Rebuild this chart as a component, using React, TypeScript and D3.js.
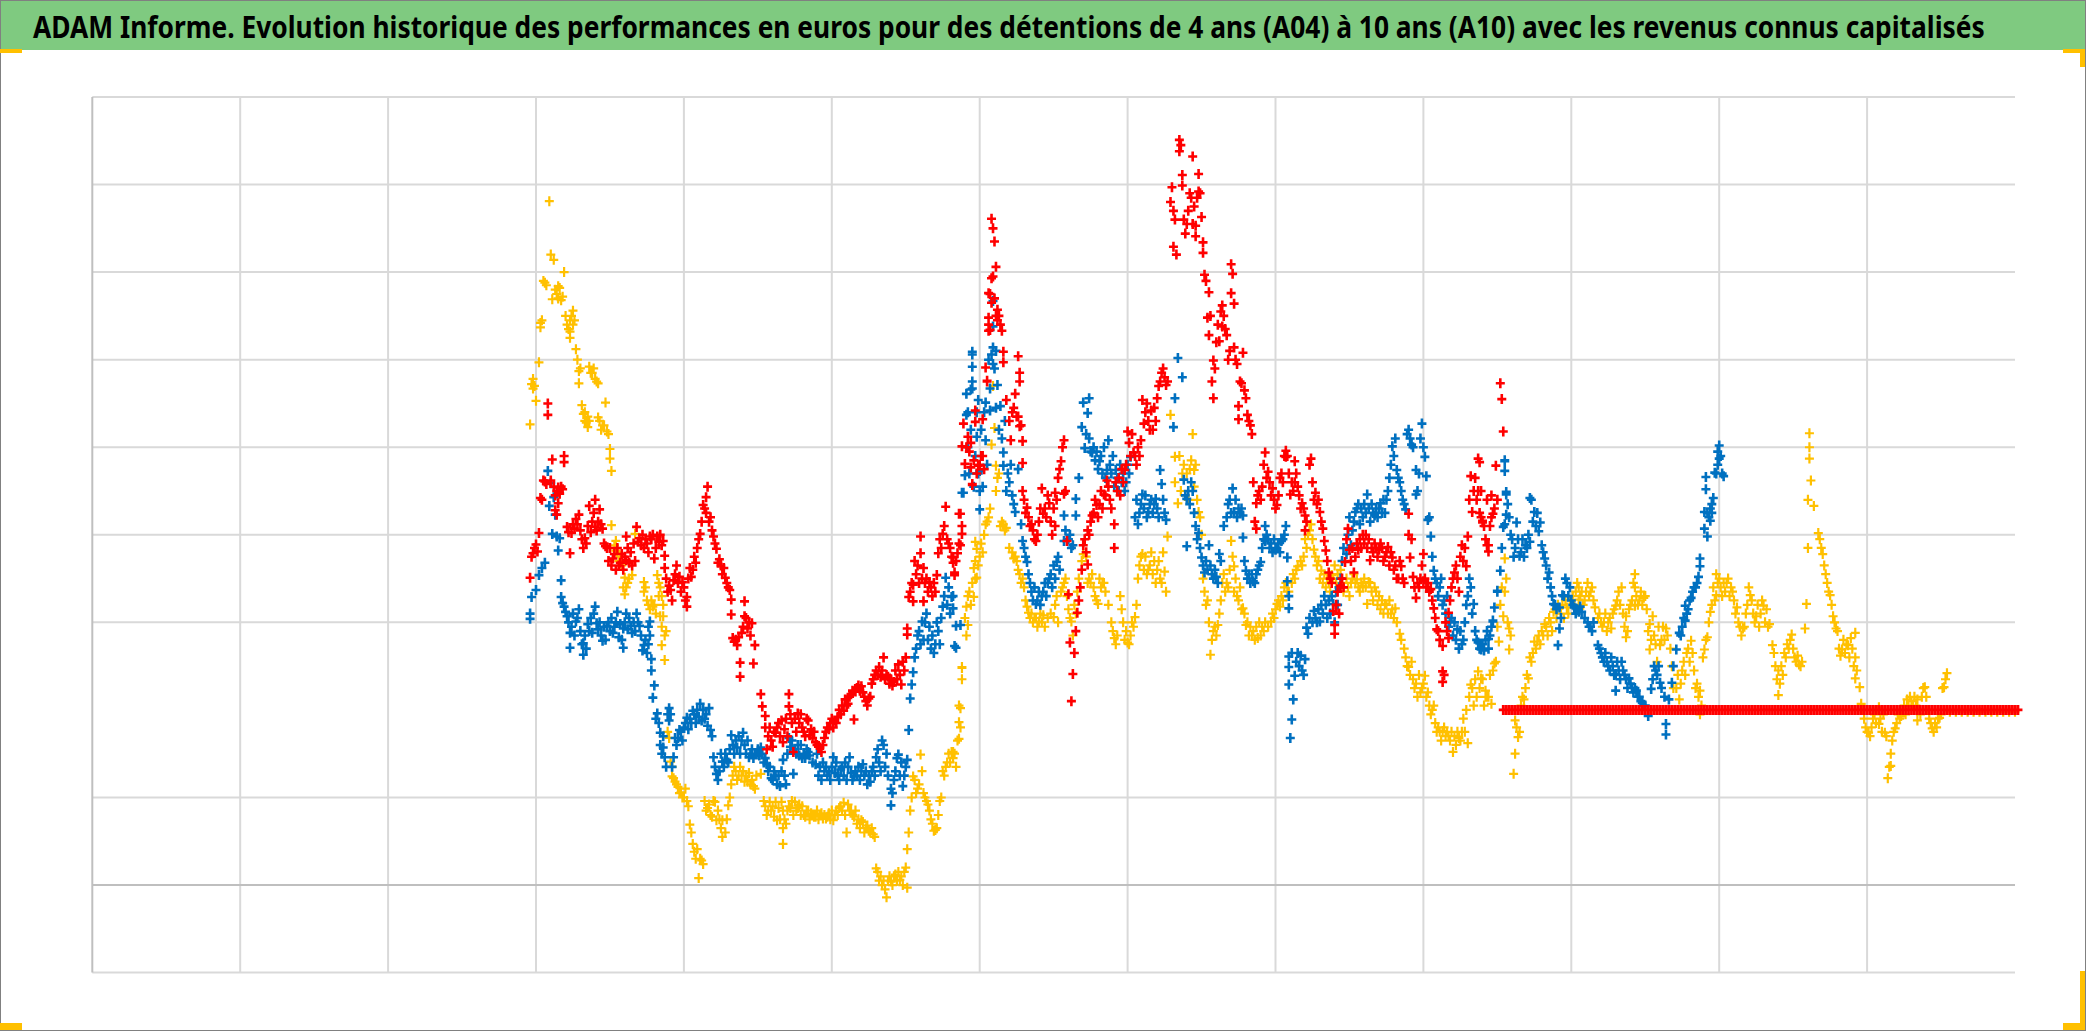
import { useRef, useLayoutEffect } from 'react';
import * as d3 from 'd3';

const width = 2086;
const height = 1031;

const title =
  'ADAM Informe. Evolution historique des performances en euros pour des détentions de 4 ans (A04) à 10 ans (A10) avec les revenus connus capitalisés';

// x: 100 units per vertical gridline, y: 100 units per horizontal gridline
const xGrid = [0, 100, 200, 300, 400, 500, 600, 700, 800, 900, 1000, 1100, 1200];
const yGrid = [-100, 100, 300, 400, 500, 600, 700, 800, 900];
const zeroLine = 0;

const yellowPoints: [number, number][] = [
  [296,526],[298,578],[298,567],[300,553],[302,597],[303,642],[303,637],[305,690],[306,688],[309,781],[310,720],[312,714],[311,669],[315,684],[315,670],[318,672],[319,700],[323,645],[323,625],[323,632],[325,656],[325,640],[328,600],[329,587],[329,573],[336,592],[338,585],[340,578],[342,573],[331,548],[332,538],[333,530],[335,523],[342,534],[345,525],[347,551],[349,515],[350,498],[350,487],[351,473],[351,411],[354,393],[354,382],[360,351],[360,332],[365,354],[367,401],[373,346],[373,335],[375,325],[377,315],[380,320],[382,354],[383,330],[386,307],[384,307],[385,295],[387,285],[385,274],[387,257],
  [390,168],[391,141],[392,124],[394,118],[396,112],[398,106],[400,100],[402,96],[404,69],[406,47],[409,41],[411,30],[413,24],[410,8],[414,96],[416,88],[418,80],[420,96],[422,74],[426,74],[426,55],[430,91],[434,135],[437,125],[440,130],[443,118],[447,113],[452,127],[454,96],[457,85],[460,90],[463,74],[467,85],[467,65],[467,47],[473,96],[476,85],[478,92],[481,80],[484,85],[488,78],[492,80],[496,76],[501,74],[505,88],[508,94],[510,60],[512,85],[514,80],[520,74],[523,65],[526,60],[529,55],[530,19],[533,10],[535,5],[537,-14],[540,4],[543,12],[546,6],[549,15],[551,41],[551,-3],[553,85],[555,124],[558,110],[560,149],[562,105],[564,96],[566,85],[570,63],[573,96],[575,130],[578,140],[581,152],[584,135],[587,202],[587,180],[588,249],[588,235],[591,318],[591,285],[596,362],[596,329],[598,384],[598,351],
  [582,152],[586,205],[586,186],[586,167],[588,248],[592,330],[592,297],[597,392],[597,350],[604,412],[605,415],[616,412],[611,479],[611,450],[609,570],[610,522],[608,503],[623,373],[629,350],[633,311],[637,305],[640,301],[643,308],[650,306],[657,345],[662,301],[664,320],[670,378],[674,350],[680,321],[683,345],[691,282],[695,330],[700,277],[705,306],[710,378],[714,360],[718,370],[722,350],[725,358],[726,335],[727,398],[729,537],[732,489],[732,460],[734,436],[744,515],[745,474],[745,455],[748,426],[754,325],[756,263],[761,297],[766,335],[770,393],[772,364],[772,335],[778,316],[780,297],[784,285],[788,282],[792,290],[797,301],[801,321],[808,335],[815,364],[819,375],[824,412],[826,383],[831,359],[838,354],[855,349],[859,342],[863,346],[867,340],[862,321],[874,321],[881,316],[884,287],[890,249],[896,215],[901,239],[906,200],[913,176],[917,170],[920,152],[924,168],[930,162],[932,229],[937,244],[942,215],[948,253],
  [939,236],[942,222],[946,207],[951,278],[954,307],[955,335],[956,350],[955,373],[958,293],[958,269],[962,188],[964,169],[962,150],[961,127],[968,212],[971,236],[972,260],[975,278],[977,278],[982,298],[988,312],[997,317],[1005,340],[1005,326],[1014,340],[1016,317],[1022,300],[1027,293],[1030,319],[1034,340],[1037,307],[1037,283],[1043,355],[1043,340],[1043,319],[1049,328],[1053,298],[1055,307],[1053,269],[1064,293],[1060,274],[1058,255],[1068,250],[1073,212],[1075,245],[1081,279],[1083,245],[1087,222],[1087,195],[1090,269],[1092,283],[1094,312],[1098,355],[1098,331],[1105,345],[1109,335],[1112,317],[1116,293],[1121,331],[1125,307],[1130,319],[1134,298],[1136,274],[1140,245],[1140,217],[1145,260],[1149,286],[1154,252],[1158,293],[1159,321],[1160,385],[1161,516],[1161,500],[1161,487],[1162,462],[1160,440],[1164,433],[1167,402],[1170,378],[1172,355],[1175,331],[1177,307],[1179,293],[1183,269],[1187,274],[1192,288],[1192,260],[1192,236],[1195,226],[1196,207],[1201,174],[1208,203],[1208,184],[1212,174],[1214,122],[1216,150],[1216,136],[1219,179],[1223,193],[1227,212],[1234,212],[1239,226],[1234,188],[1244,179],[1249,191],[1252,226],[1254,242],
];

const yellowDense: [number, number][] = [
  [297,572],[299,570],[304,645],[307,685],[313,680],[314,675],[316,682],[317,668],[320,650],[321,640],[322,635],[324,650],[326,645],[327,612],[330,590],[334,528],[337,585],[339,590],[341,575],[333,540],[335,535],[336,530],[343,530],[344,520],[346,525],[348,518],
  [353,388],[355,380],[356,370],[357,375],[358,365],[359,340],[361,340],[362,345],[363,350],[374,340],[376,320],[378,325],[379,318],[381,310],[383,345],[384,340],[385,330],[386,320],[388,290],[389,175],[392,135],[393,122],
  [395,115],[397,105],[399,100],[401,110],[403,90],[405,60],[407,38],[408,30],[412,28],[415,85],[417,92],[419,78],[421,95],[423,85],[424,75],[425,65],[428,60],[429,75],[431,100],[432,115],[433,125],[435,130],[436,120],[438,135],[439,125],[441,118],[442,125],[444,128],[445,115],[446,120],[448,110],[449,125],
  [455,90],[456,80],[458,95],[459,85],[461,78],[462,95],[464,88],[465,75],[466,95],[468,75],[469,70],[470,85],[471,90],[472,88],[474,80],[475,95],[477,88],[479,80],[480,90],[482,78],[483,85],[485,75],[486,82],[487,80],[489,78],[490,85],[491,75],[493,82],[494,76],[495,80],[497,78],[498,82],[499,75],[500,85],[502,80],[503,85],[504,80],[506,90],[507,85],[509,80],[511,92],[513,85],[515,78],[516,85],[517,70],[518,75],[519,65],[521,72],[522,60],[524,68],[525,62],[527,65],[528,58],
  [531,15],[532,5],[534,0],[536,-5],[538,5],[539,10],[541,0],[542,10],[544,5],[545,15],[547,10],[548,0],[550,20],[552,60],[554,100],[556,120],[557,105],[559,115],[561,130],[563,100],[565,92],[567,75],[568,70],[569,62],[571,65],[572,80],[574,100],[576,125],[577,135],[579,150],[580,140],[582,145],[583,150],[585,165],
  [590,305],[593,335],[594,320],[595,345],[597,370],[599,365],[600,375],[601,390],[602,380],[603,400],
  [606,420],[607,430],[612,465],[613,470],[614,410],[615,415],[617,405],[618,408],[620,385],[622,380],[624,375],[625,370],[626,360],[627,355],[628,345],[630,340],[631,325],[632,318],[634,305],[635,310],[636,300],[638,305],[639,295],[641,310],[642,300],[644,295],[646,305],[648,310],[651,320],[652,330],[653,300],[655,335],[656,340],[658,350],[659,330],[660,315],[661,305],[663,285],[665,310],[666,335],[667,350],[669,370],[672,375],[673,345],[675,345],[676,355],[677,340],[678,330],[679,325],[681,350],[682,340],[684,345],[685,335],[687,320],[689,300],[690,290],[692,275],[693,285],[696,315],[697,300],[698,280],[699,290],[701,275],[702,285],[703,300],[704,295],[706,320],[707,350],[708,365],[709,375],[711,360],[712,375],[713,355],[715,365],[716,380],[717,355],[719,345],[720,360],[721,370],[723,345],[724,380],
  [735,490],[736,450],[737,470],[738,480],[739,445],[740,470],[741,440],[742,475],[743,485],[746,480],[747,440],[749,420],[750,400],[751,350],[752,335],[753,320],[755,300],[757,280],[758,290],[759,295],[760,285],[762,310],[763,325],[764,345],[765,355],[767,345],[768,340],[769,360],[771,375],[773,350],[774,330],[775,325],[776,340],[777,315],[779,310],[781,300],[782,285],[783,295],[785,290],[786,280],[787,295],[789,300],[790,285],[791,295],[793,300],[795,295],[798,310],[799,305],[800,315],[802,325],[803,318],[804,330],[805,325],[806,340],[807,345],[809,335],[811,345],[812,355],[813,350],[814,360],
  [817,370],[818,365],[820,395],[821,385],[822,400],[823,405],[825,395],[827,375],[828,365],[829,370],[830,350],[832,345],[833,355],[834,340],[835,350],[836,345],[837,335],[839,350],[840,365],[841,345],[842,355],[843,340],[844,360],[845,345],[846,335],[848,350],[849,340],[850,330],[851,345],[852,350],[853,355],[854,345],[856,340],[857,335],[858,345],[860,350],[861,340],[864,345],[865,335],[866,325],[868,335],[869,320],[870,330],[871,315],[872,325],[873,310],[875,320],[876,310],[877,325],[878,310],[879,315],[880,305],[882,300],
  [885,280],[887,270],[888,260],[889,250],[891,240],[892,255],[893,235],[894,225],[895,230],[897,240],[898,220],[899,225],[900,230],[902,215],[903,220],[904,205],[905,195],[907,205],[908,185],[909,175],[910,180],[911,175],[912,165],[914,180],[915,170],[916,175],[918,165],[919,175],[921,170],[922,160],[923,175],[925,165],[926,175],[927,190],[928,175],[929,200],[931,215],[933,225],[934,205],[935,235],[936,215],[938,225],[940,235],[941,205],[943,215],[944,215],[945,240],[947,245],
  [949,255],[950,295],[952,320],[953,340],[957,300],[959,285],[963,180],[965,175],[966,205],[967,215],[969,225],[970,240],[973,255],[974,265],[976,270],[978,285],[979,275],[980,290],[981,285],[983,295],[984,285],[985,305],[986,300],[987,290],[989,315],[990,305],[991,320],[993,310],[994,320],[995,305],[996,325],[998,310],[999,325],
  [1001,330],[1002,320],[1003,335],[1004,345],[1006,330],[1007,335],[1008,320],[1009,325],[1010,335],[1011,345],[1012,330],[1013,335],[1015,325],[1018,305],[1019,310],[1020,300],[1021,295],[1023,310],[1024,290],[1025,300],[1026,305],[1028,310],[1029,315],[1031,325],[1032,335],[1033,320],[1035,310],[1036,295],[1038,290],[1039,315],[1040,320],[1041,325],[1042,345],[1044,330],[1045,320],[1046,325],[1047,335],[1048,320],[1050,330],[1051,315],[1052,290],[1054,280],[1056,285],[1057,275],[1059,295],[1061,280],[1062,295],[1063,280],[1065,285],
  [1067,270],[1069,225],[1071,225],[1072,240],[1074,230],[1076,255],[1077,240],[1078,265],[1079,270],[1080,255],[1082,265],[1084,225],[1085,230],[1086,215],[1088,205],[1089,260],[1091,280],[1093,300],[1095,320],[1096,340],[1097,325],[1099,345],[1100,350],[1101,340],[1102,330],[1103,345],[1104,335],[1106,350],[1107,330],[1108,340],[1110,325],[1111,310],[1113,300],[1114,295],[1115,285],[1117,295],[1118,310],[1119,320],[1120,340],[1122,325],[1123,310],[1124,300],[1126,320],[1127,295],[1128,310],[1129,325],[1131,300],[1132,315],[1133,295],
  [1137,265],[1138,250],[1139,235],[1141,230],[1142,250],[1143,240],[1144,265],[1146,275],[1147,270],[1148,280],[1150,270],[1151,260],[1152,255],[1153,262],[1155,250],[1156,255],[1168,395],[1169,385],[1171,365],[1173,345],[1174,335],[1176,320],[1178,300],[1180,290],[1181,270],[1182,262],[1184,280],[1185,265],[1186,275],[1188,260],[1189,282],[1190,270],[1191,250],[1193,245],[1197,200],[1198,190],[1199,180],[1200,175],[1202,170],[1203,180],[1204,190],[1205,195],[1206,185],[1207,200],[1209,190],[1210,175],[1211,195],[1213,170],[1215,135],[1217,165],[1218,175],[1220,185],[1221,195],[1222,190],[1224,200],[1225,205],[1226,195],[1228,205],[1229,215],[1230,210],[1231,205],[1232,215],[1233,205],[1235,200],[1236,195],[1237,215],[1238,225],[1240,215],[1241,200],[1242,190],[1243,185],[1245,175],[1246,185],[1247,180],[1248,190],[1250,195],[1251,225],[1253,235],
  [1256,198],[1260,198],[1264,198],[1268,198],[1272,198],[1276,198],[1280,198],[1284,198],[1288,198],[1292,198],[1296,198],[1300,198],
];

const bluePoints: [number, number][] = [
  [296,310],[296,304],[297,329],[300,337],[302,354],[304,362],[306,368],[308,473],[310,459],[312,443],[313,423],[309,433],[311,401],[314,398],[316,396],[315,382],[317,348],[317,329],[319,318],[321,307],[323,288],[323,271],[327,301],[329,315],[332,263],[332,276],[336,290],[340,318],[341,299],[345,279],[348,296],[352,288],[355,312],[359,271],[359,293],[361,310],[365,288],[368,310],[370,296],[373,274],[375,265],[377,301],[377,285],[378,258],[378,245],[380,228],[379,214],[382,196],[390,202],[390,188],[384,174],[386,157],[387,146],[393,146],[394,168],[397,177],[402,191],[406,199],[411,207],[412,188],[417,202],[418,177],[420,146],[422,127],[426,141],[429,143],[432,171],[436,157],[440,174],[444,146],[448,149],[452,157],[456,138],[461,130],[465,113],[467,143],[474,127],[471,168],[479,160],[484,152],[489,138],[498,130],[501,146],[506,132],[512,146],[515,124],[521,138],[526,118],[530,146],[535,160],[536,135],[540,91],[540,110],[543,130],[545,149],[548,113],[551,143],[552,177],[553,213],[554,229],[555,243],[556,260],[558,285],[561,301],[564,310],[569,265],[572,290],[575,318],[577,351],[581,329],[584,271],[584,296],[588,448],[590,468],[592,540],[595,567],[595,606],[598,512],[600,473],[600,429],[607,567],[608,606],[611,545],
  [583,273],[582,330],[582,316],[587,297],[589,448],[591,561],[595,609],[595,592],[595,575],[594,566],[591,537],[599,554],[604,551],[600,450],[604,508],[609,614],[609,595],[609,638],[609,667],[607,542],[612,571],[614,547],[616,494],[616,479],[618,450],[626,475],[624,426],[628,412],[629,393],[632,369],[634,345],[638,321],[642,330],[647,350],[652,369],[657,422],[657,393],[663,388],[665,441],[665,422],[667,465],[670,551],[674,556],[673,539],[669,523],[671,499],[676,494],[681,484],[687,508],[686,474],[692,474],[698,450],[702,489],[707,412],[710,446],[714,426],[719,441],[722,474],[723,458],[726,417],[731,523],[732,556],[734,602],[737,580],[738,463],[740,441],[740,387],[744,450],[748,402],[750,374],[755,388],[752,357],[760,352],[762,378],[765,410],[771,453],[772,426],[778,422],[778,397],[780,359],[785,347],[790,369],[793,410],[793,393],[800,383],[804,393],[807,410],[808,374],[808,347],[809,330],[809,316],[809,261],[815,265],[820,258],[809,249],[813,239],[809,229],[812,212],[811,189],[810,168],[821,294],[822,287],[826,313],[830,301],[833,330],[839,321],[843,340],[848,378],[851,388],[854,426],[857,412],[862,446],[867,422],[871,436],[876,450],[879,501],[882,474],[885,450],[888,429],[890,520],[892,503],[899,527],[895,474],[895,446],[901,489],[902,467],[903,417],[905,398],[907,359],[912,350],[914,325],[918,301],[923,292],[926,275],[931,350],[934,321],[937,277],[941,268],[947,301],[950,335],[955,484],[955,412],[956,446],
  [939,269],[944,281],[947,302],[948,317],[950,336],[952,359],[953,385],[955,473],[955,485],[956,449],[957,435],[956,423],[954,409],[959,400],[963,414],[962,385],[965,376],[969,388],[972,392],[972,442],[975,426],[979,414],[978,404],[980,388],[982,373],[985,357],[986,340],[988,321],[992,317],[992,293],[991,274],[994,331],[996,350],[999,340],[1002,317],[1007,312],[1013,295],[1018,274],[1022,255],[1027,260],[1030,241],[1030,222],[1034,255],[1039,236],[1044,222],[1049,205],[1052,193],[1054,224],[1057,245],[1060,231],[1063,215],[1066,212],[1064,184],[1064,172],[1068,231],[1069,250],[1071,269],[1073,288],[1077,302],[1077,319],[1081,328],[1083,340],[1086,352],[1087,373],[1087,364],[1091,466],[1091,452],[1090,426],[1094,430],[1094,416],[1090,407],[1092,398],[1096,442],[1097,471],[1100,502],[1100,487],[1103,467],
];

const blueDense: [number, number][] = [
  [318,322],[320,312],[322,300],[324,295],[325,310],[326,285],[328,305],[330,290],[331,275],[333,285],[334,270],[335,298],[337,305],[338,288],[339,310],[342,292],[343,300],[344,285],[346,295],[347,280],[349,300],[350,290],[351,305],[353,295],[354,300],[356,283],[357,298],[358,280],[360,300],[362,292],[363,305],[364,296],[366,300],[367,290],[369,300],[371,285],[372,268],[374,280],[376,275],[376,295],
  [381,190],[383,185],[384,160],[385,150],[386,170],[388,135],[389,195],[391,195],[392,135],[395,160],[396,168],[398,175],[399,165],[400,180],[401,185],[403,178],[404,190],[405,185],[407,195],[408,185],[409,200],[410,192],[413,200],[414,190],[415,195],[416,182],[419,170],
  [421,135],[423,120],[424,130],[425,150],[427,135],[428,150],[430,140],[431,155],[433,160],[434,150],[435,165],[437,170],[438,150],[439,165],[441,160],[442,150],[443,165],[445,150],[446,155],[447,145],[449,150],[450,155],[451,148],[453,150],[454,140],[455,145],[457,130],[458,135],[459,122],[460,120],[462,125],[463,115],[464,125],[466,130],[468,125],[469,115],[470,150],[472,158],[473,165],[475,155],[476,150],[477,160],[478,148],[480,145],[481,150],[482,145],[483,155],[485,148],[487,140],[490,150],[491,125],[492,135],[493,120],[494,140],[495,130],[496,135],[497,125],[499,120],[500,135],[502,128],[503,140],[504,125],[505,120],[507,135],[508,125],[509,140],[510,120],[511,135],[513,128],[514,120],[516,130],[517,125],[518,135],[519,120],[520,130],[522,125],[523,130],[524,115],[525,125],[527,130],[528,135],[529,125],[531,155],[532,140],[533,130],[534,165],[537,150],[538,125],[541,105],[542,120],[544,145],[546,125],[547,140],[549,125],[550,135],
  [557,270],[559,290],[560,275],[562,280],[563,300],[565,280],[566,295],[567,270],[568,285],[570,275],[571,300],[573,275],[574,305],[576,330],[578,320],[579,340],[580,310],
  [592,500],[593,470],[594,520],[596,455],[597,490],[598,540],[599,470],[601,520],[602,455],[603,540],[605,480],[606,600],[610,590],[611,610],[613,520],[615,510],[617,530],[619,470],[620,460],[622,445],[621,480],[623,435],
  [630,385],[631,375],[633,355],[635,335],[636,325],[637,340],[639,325],[640,335],[641,320],[643,335],[644,345],[645,330],[646,345],[648,355],[649,340],[650,365],[651,350],[653,375],[654,360],[658,405],[660,395],[661,400],[662,385],
  [672,515],[674,510],[675,495],[677,500],[678,485],[679,495],[680,475],[682,490],[683,470],[684,500],[685,465],[688,480],[689,470],[690,490],[691,455],[693,465],[694,450],[695,480],[696,460],[697,470],[699,460],[700,480],[701,470],
  [705,420],[706,440],[708,425],[709,435],[711,430],[712,445],[713,420],[715,435],[716,440],[717,425],[718,435],[720,430],[721,420],[724,440],[725,425],
  [739,445],[741,450],[742,435],[743,460],[745,425],[746,410],[747,395],[749,385],[751,365],[753,370],[754,360],[756,365],[757,355],[758,350],[759,360],[761,345],[763,370],
  [767,420],[768,435],[769,440],[770,425],[773,440],[774,420],[775,430],[776,425],[777,430],[779,370],[781,350],[782,355],[783,345],[784,355],[786,345],[787,355],[788,360],[789,365],[791,385],[792,395],[794,400],[795,395],[796,385],[797,390],[798,380],[799,395],[801,385],[802,390],[803,380],[805,395],[806,400],
  [811,265],[814,255],[816,250],[817,262],[818,245],[819,240],
  [823,305],[825,300],[827,305],[828,300],[829,315],[831,320],[832,310],[834,320],[835,305],[836,325],[837,310],[838,330],[840,300],[841,335],[842,320],[844,350],[845,370],[846,385],[849,400],[850,420],[852,405],[853,415],[855,430],[856,435],[858,430],[859,420],[860,435],[861,425],[863,430],[864,415],[865,435],[866,425],[868,430],[869,420],[870,430],[872,425],[873,440],[874,425],[875,440],[877,465],[878,480],[880,490],[881,510],[883,465],[884,460],[886,440],[887,435],[889,515],[891,510],[893,500],[896,450],[897,470],[898,510],[900,500],[904,420],
  [906,375],[908,350],[909,345],[910,330],[911,340],[913,320],[915,310],[916,330],[917,295],[919,305],[920,285],[921,300],[922,280],[924,270],[925,290],[927,280],[928,300],[929,320],[930,330],[932,340],[933,310],[935,290],[936,280],[938,270],[940,275],[942,280],[943,290],[944,270],[945,285],[946,295],
  [958,420],[960,395],[961,375],[964,395],[966,380],[967,395],[968,375],[970,385],[971,400],[973,440],[974,415],[976,410],[977,425],[981,380],[983,365],[984,350],[987,330],[989,320],[990,315],[993,305],[995,330],[997,345],[998,330],[1000,325],[1001,320],[1003,310],[1004,315],[1005,312],[1006,318],[1009,305],[1011,300],[1012,295],[1014,290],[1015,300],
  [1019,270],[1020,265],[1021,260],[1023,265],[1024,255],[1025,250],[1026,245],[1028,250],[1029,240],[1031,255],[1032,245],[1033,235],[1035,245],[1036,240],[1037,235],[1038,225],[1040,230],[1041,225],[1042,220],[1043,225],[1045,215],[1046,215],[1047,210],[1048,208],[1050,205],
  [1055,235],[1056,250],[1058,240],[1059,250],[1061,225],[1074,285],[1075,295],[1076,305],[1078,310],[1079,315],[1080,325],[1082,335],[1084,340],[1085,345],[1092,425],[1093,420],[1095,425],[1095,435],[1098,470],[1099,480],[1101,490],[1102,470],[1099,495],
];

const redPoints: [number, number][] = [
  [296,351],[298,379],[300,389],[302,402],[303,442],[306,461],[308,550],[308,537],[311,486],[310,462],[313,445],[315,454],[319,490],[319,483],[314,423],[321,409],[323,379],[326,407],[329,423],[333,396],[336,433],[340,440],[340,409],[343,429],[345,407],[347,387],[352,373],[356,365],[361,398],[361,371],[365,365],[366,390],[368,409],[370,396],[375,390],[377,398],[380,373],[382,398],[386,393],[387,376],[387,362],[391,337],[393,348],[395,365],[399,346],[402,318],[402,329],[404,362],[408,368],[411,401],[413,434],[416,455],[415,443],[418,420],[420,398],[422,384],[423,368],[427,362],[428,351],[431,337],[432,326],[432,309],[441,324],[441,307],[443,293],[446,299],[433,282],[436,274],[439,288],[448,274],[438,254],[438,238],[447,253],
  [452,218],[453,204],[455,193],[455,180],[456,155],[458,180],[462,174],[466,188],[467,163],[471,218],[471,204],[473,185],[474,152],[477,196],[480,180],[484,188],[485,171],[489,163],[492,157],[495,168],[499,185],[503,185],[508,199],[511,207],[515,189],[516,221],[520,227],[525,213],[528,235],[532,249],[535,260],[537,240],[542,232],[545,252],[547,229],[550,260],[551,293],[551,286],[552,329],[555,324],[555,343],[556,370],[560,379],[560,398],[562,362],[562,324],[566,346],[570,335],[571,354],[572,379],[575,401],[577,432],[579,390],[582,368],[583,354],[587,424],[588,401],[585,379],
  [588,501],[590,481],[592,512],[595,457],[597,529],[599,479],[601,490],[605,576],[607,634],[607,675],[608,761],[609,750],[610,735],[609,695],[611,706],[611,650],[582,374],[586,424],[588,410],[583,357],[587,388],[589,527],[594,477],[597,542],[595,458],[602,532],[604,591],[605,575],[606,676],[608,693],[606,648],[606,633],[612,657],[615,633],[616,609],[616,597],[618,554],[620,530],[621,508],[624,561],[626,604],[627,585],[627,575],[627,524],[629,507],[629,482],[629,450],[632,431],[635,412],[638,393],[642,453],[643,424],[647,436],[651,448],[651,410],[657,508],[655,484],[653,465],[657,447],[659,393],[660,332],[661,277],[662,210],[663,241],[664,265],[666,311],[668,340],[670,388],[673,366],[673,405],[676,422],[679,434],[684,446],[686,462],[691,412],[691,385],[693,450],[698,474],[700,518],[704,494],[709,508],[710,554],[711,527],[716,542],[717,520],[720,556],[723,585],[726,571],
  [730,797],[731,770],[731,729],[735,851],[735,838],[737,811],[737,799],[739,744],[742,790],[744,832],[748,812],[748,792],[746,753],[746,741],[750,763],[751,734],[751,722],[752,697],[755,677],[754,648],[755,628],[758,599],[757,575],[758,556],[762,621],[764,662],[764,638],[767,628],[768,600],[770,709],[771,698],[770,676],[772,664],[772,614],[774,595],[778,608],[777,573],[775,547],[775,532],[780,556],[781,537],[783,525],[784,515],[785,460],[787,407],[787,436],[791,455],[793,494],[795,472],[798,453],[801,434],[803,465],[807,496],[807,489],[810,446],[813,484],[813,460],[818,436],[820,422],[820,405],[824,487],[825,460],[827,448],[830,426],[832,407],[833,393],[834,382],[836,357],[838,345],[839,313],[840,297],[840,287],[844,342],[847,369],[849,407],[850,383],[853,357],[856,383],[861,400],[864,371],[867,390],[870,383],[876,386],[879,374],[882,350],[885,364],[890,424],[890,400],[891,374],[893,352],[895,328],[900,378],[900,347],[905,338],[907,316],[909,292],[913,273],[913,244],[913,232],[917,282],[917,311],[921,357],[924,335],[926,388],[929,364],[930,398],[932,467],[933,426],[937,487],[937,450],[940,414],[943,388],[944,381],[947,424],[949,479],[952,573],[953,555],[954,518],[938,483],[939,450],[940,416],[943,440],[946,445],[950,440],[944,388],
];

const redDense: [number, number][] = [
  [297,375],[299,385],[301,381],[304,440],[305,462],[307,458],[312,455],[314,450],[316,447],[317,455],[318,452],[315,436],[313,428],
  [322,403],[324,402],[325,412],[327,418],[328,412],[330,405],[331,395],[332,385],[334,390],[335,410],[337,403],[338,415],[339,425],[341,405],[342,415],[344,412],[346,390],[348,385],[349,370],[350,385],[351,365],[353,378],[354,360],[355,385],[357,368],[358,378],[359,360],[360,375],[362,385],[363,368],[364,380],[367,370],[369,392],[371,388],[372,400],[373,385],[374,395],[376,380],[378,395],[379,400],[381,385],[383,392],[384,400],[385,388],
  [388,350],[389,335],[390,342],[392,325],[394,355],[396,345],[397,352],[398,335],[400,340],[401,325],[403,350],[405,352],[406,360],[407,375],[409,385],[410,395],[412,415],[414,430],[415,425],[417,415],[419,405],[421,390],[424,372],[425,365],[426,355],[429,345],[430,340],
  [434,278],[435,280],[437,283],[440,295],[442,305],[444,300],[445,285],
  [457,170],[459,165],[460,158],[461,175],[463,180],[464,185],[465,170],[468,178],[469,190],[470,170],[472,195],[475,190],[476,175],[478,185],[479,195],[481,175],[482,170],[483,190],[486,178],[487,168],[488,175],[490,160],[491,158],[493,152],[494,160],[496,175],[497,180],[498,178],[500,190],[501,180],[502,188],[504,192],[505,200],[506,195],[507,205],[509,212],[510,205],[512,215],[513,218],[514,222],[517,225],[518,228],[519,222],[521,220],[522,215],[523,210],[524,205],[526,215],[527,230],[529,240],[530,245],[531,240],[533,238],[534,245],[536,235],[538,238],[539,230],[540,235],[541,228],[543,245],[544,235],[546,240],[548,255],[549,245],
  [553,335],[554,345],[557,355],[558,365],[559,345],[561,350],[563,345],[564,350],[565,335],[567,340],[568,330],[569,345],[573,395],[574,385],[576,410],[578,395],[580,385],[581,375],[584,370],[586,390],
  [591,500],[593,495],[594,505],[596,485],[598,470],[600,480],[602,490],[603,475],[606,640],[608,665],[610,670],[612,645],[613,650],[614,640],
  [622,540],[623,545],[625,535],[626,535],[628,525],[630,440],[631,425],[633,420],[634,410],[636,405],[637,395],[639,400],[640,415],[641,430],[644,430],[645,420],[646,445],[648,415],[649,400],[650,430],[652,440],[654,475],[656,500],[658,450],
  [665,290],[667,325],[669,360],[671,395],[672,380],[674,400],[675,415],[677,425],[678,440],[680,420],[681,435],[682,450],[683,430],[685,445],[687,455],[688,440],[689,430],[692,460],[694,465],[695,445],[696,475],[697,460],[699,480],[701,505],[702,490],[703,515],[705,490],[706,480],[707,500],[708,490],[712,540],[713,550],[714,530],[715,520],[718,545],[719,530],[721,570],[722,575],[724,590],[725,580],[727,575],
  [729,780],[732,760],[733,720],[736,845],[738,760],[740,755],[741,770],[743,785],[745,775],[747,785],[749,790],[744,755],[753,690],[756,650],[759,590],[760,620],[761,640],[763,655],[765,650],[766,635],[769,610],[773,600],[776,575],[779,565],[782,530],
  [786,415],[788,445],[789,450],[790,440],[792,480],[794,465],[796,460],[797,445],[799,440],[800,430],[802,445],[804,470],[805,460],[806,490],[808,490],[809,470],[811,460],[812,450],[814,470],[815,455],[816,445],[817,430],[819,430],[821,415],[823,480],[826,440],[828,435],[829,440],[831,415],[835,370],[837,350],[841,320],[842,335],[843,310],[845,350],[846,340],[848,395],[851,370],[852,385],[854,375],[855,390],[857,395],[858,385],[859,400],[860,390],[862,385],[863,395],[865,385],[866,380],[868,385],[869,375],[871,390],[872,385],[873,370],[874,375],[875,380],[877,365],[878,380],[880,360],[881,365],[883,350],[884,370],[886,350],[887,345],
  [892,395],[894,340],[896,345],[897,340],[898,350],[899,365],[901,350],[902,340],[903,345],[904,335],[906,325],[908,305],[910,290],[911,280],[914,240],[915,300],[916,290],[918,325],[919,340],[920,350],[922,365],[923,350],[925,375],[927,370],[928,385],[931,440],[934,450],[935,465],[936,440],[938,425],[939,420],[941,410],[942,395],[945,410],[946,420],[948,430],
];

// the red series stays flat from about x=954 on
const redFlatDays = [
  954,956,958,960,962,964,966,968,970,972,974,976,978,980,982,984,986,988,990,992,994,996,998,1000,1002,1004,1006,1008,1010,1012,1014,1016,1018,1020,1022,1024,1026,1028,1030,1032,1034,1036,1038,1040,1042,1044,1046,1048,1050,1052,1054,1056,1058,1060,1062,1064,1066,1068,1070,1072,1074,1076,1078,1080,1082,1084,1086,1088,1090,1092,1094,1096,1098,1100,1102,1104,1106,1108,1110,1112,1114,1116,1118,1120,1122,1124,1126,1128,1130,1132,1134,1136,1138,1140,1142,1144,1146,1148,1150,1152,1154,1156,1158,1160,1162,1164,1166,1168,1170,1172,1174,1176,1178,1180,1182,1184,1186,1188,1190,1192,1194,1196,1198,1200,1202,1204,1206,1208,1210,1212,1214,1216,1218,1220,1222,1224,1226,1228,1230,1232,1234,1236,1238,1240,1242,1244,1246,1248,1250,1252,1254,1256,1258,1260,1262,1264,1266,1268,1270,1272,1274,1276,1278,1280,1282,1284,1286,1288,1290,1292,1294,1296,1298,1300,1302,
];
const redFlatValue = 200;

const seriesList = [
  { color: '#FFC000', weight: 2.2, points: [...yellowPoints, ...yellowDense] },
  { color: '#0070C0', weight: 2.6, points: [...bluePoints, ...blueDense] },
  { color: '#FF0000', weight: 2.6, points: [...redPoints, ...redDense] },
  { color: '#FF0000', weight: 2.8, points: redFlatDays.map((d) => [d, redFlatValue] as [number, number]) },
];

const xScale = d3.scaleLinear().domain([0, 1300]).range([92.3, 2015]);
const yScale = d3.scaleLinear().domain([-100, 900]).range([972.6, 97]);

const plusPath = (x: number, y: number) => {
  const p = d3.path();
  p.moveTo(x - 4.5, y);
  p.lineTo(x + 4.5, y);
  p.moveTo(x, y - 5);
  p.lineTo(x, y + 5);
  return p.toString();
};

export default function App() {
  const titleRef = useRef<SVGTextElement>(null);
  const left = xScale(0);
  const right = xScale(1300);

  // squeeze the title to the width it has in the picture
  useLayoutEffect(() => {
    const node = titleRef.current;
    if (!node) return;
    const natural = node.getComputedTextLength();
    node.setAttribute('transform', `translate(33,38) scale(${1952 / natural},1)`);
  }, []);

  return (
    <svg
      width={width}
      height={height}
      style={{ position: 'absolute', left: 0, top: 0, background: '#fff' }}
    >
      <rect x={0} y={0} width={width} height={50} fill="#7FCA80" />
      <rect x={0.5} y={0.5} width={width - 1} height={height - 1} fill="none" stroke="#808080" strokeWidth={1} />
      <text
        ref={titleRef}
        fontFamily="'Noto Sans', sans-serif"
        fontWeight={700}
        fontSize={31}
        fill="#000"
      >
        {title}
      </text>

      {/* corner marks */}
      <g fill="#FFC000">
        <rect x={0} y={49} width={22} height={4} />
        <rect x={2063} y={49} width={22} height={4} />
        <rect x={2080} y={49} width={5} height={18} />
        <rect x={0} y={1023} width={22} height={7} />
        <rect x={2063} y={1023} width={22} height={7} />
        <rect x={2080} y={971} width={5} height={59} />
      </g>

      {/* grid */}
      <g stroke="#D9D9D9" strokeWidth={2}>
        {yGrid.map((v) => (
          <line key={v} x1={left} x2={right} y1={yScale(v)} y2={yScale(v)} />
        ))}
        {xGrid.slice(1).map((v) => (
          <line key={v} x1={xScale(v)} x2={xScale(v)} y1={yScale(900)} y2={yScale(-100)} />
        ))}
      </g>
      <line x1={left} x2={left} y1={yScale(900)} y2={yScale(-100)} stroke="#BFBFBF" strokeWidth={2} />
      <line x1={left} x2={right} y1={yScale(zeroLine)} y2={yScale(zeroLine)} stroke="#BFBFBF" strokeWidth={2} />

      {/* series */}
      {seriesList.map((s, i) => (
        <path
          key={i}
          d={s.points.map(([x, v]) => plusPath(xScale(x), yScale(v))).join('')}
          fill="none"
          stroke={s.color}
          strokeWidth={s.weight}
        />
      ))}
    </svg>
  );
}
